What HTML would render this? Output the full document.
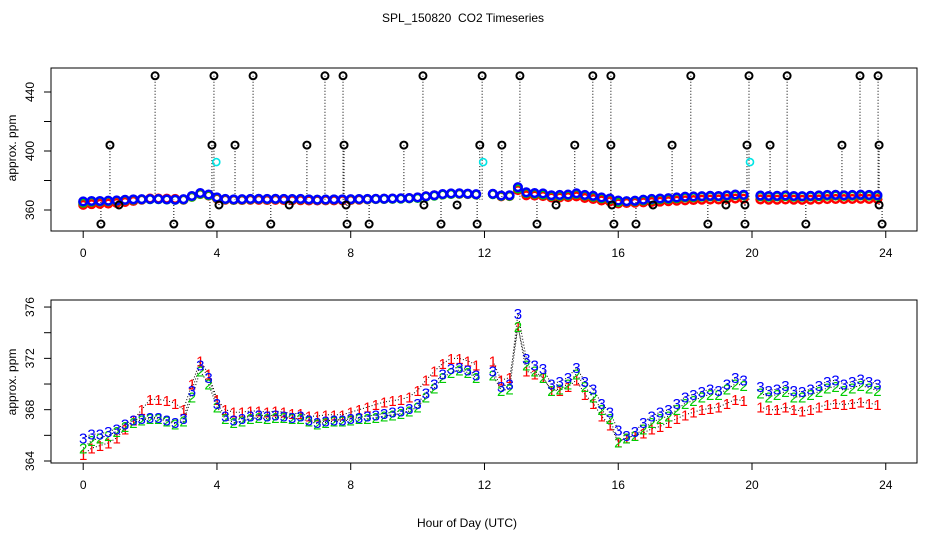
<!DOCTYPE html>
<html><head><meta charset="utf-8"><style>
html,body{margin:0;padding:0;background:#fff;}
svg{display:block;font-family:"Liberation Sans",sans-serif;}
</style></head><body>
<svg id="chart" width="936" height="540" viewBox="0 0 936 540">
<text x="463" y="22" text-anchor="middle" font-size="12" style="white-space:pre">SPL_150820  CO2 Timeseries</text>
<g id="topPanel"></g>
<g id="botPanel"></g>
<text x="467" y="527" text-anchor="middle" font-size="12">Hour of Day (UTC)</text>
</svg>
<script>
const hours = [0,0.25,0.5,0.75,1,1.25,1.5,1.75,2,2.25,2.5,2.75,3,3.25,3.5,3.75,4,4.25,4.5,4.75,5,5.25,5.5,5.75,6,6.25,6.5,6.75,7,7.25,7.5,7.75,8,8.25,8.5,8.75,9,9.25,9.5,9.75,10,10.25,10.5,10.75,11,11.25,11.5,11.75,12,12.25,12.5,12.75,13,13.25,13.5,13.75,14,14.25,14.5,14.75,15,15.25,15.5,15.75,16,16.25,16.5,16.75,17,17.25,17.5,17.75,18,18.25,18.5,18.75,19,19.25,19.5,19.75,20,20.25,20.5,20.75,21,21.25,21.5,21.75,22,22.25,22.5,22.75,23,23.25,23.5,23.75];
const series3 = [365.8,366.1,366.1,366.3,366.5,366.9,367.2,367.3,367.4,367.4,367.2,367.0,367.3,369.5,371.5,370.5,368.5,367.5,367.2,367.3,367.5,367.6,367.5,367.6,367.5,367.4,367.5,367.2,367.0,367.1,367.2,367.2,367.3,367.4,367.5,367.6,367.7,367.8,367.9,368.1,368.5,369.3,370.0,370.8,371.2,371.3,371.1,370.7,null,371.0,369.8,370.0,375.5,372.0,371.5,371.2,370.0,370.2,370.5,371.3,370.2,369.6,368.5,367.8,366.4,366.0,366.3,367.0,367.5,367.8,368.0,368.5,369.0,369.2,369.4,369.6,369.5,370.0,370.5,370.3,null,369.8,369.5,369.6,369.9,369.5,369.4,369.6,369.9,370.2,370.3,370.0,370.2,370.4,370.2,370.0];
const series2 = [365.0,365.6,365.8,366.0,366.3,366.7,367.0,367.2,367.3,367.3,367.1,366.9,367.1,369.0,371.0,370.0,368.2,367.3,367.0,367.1,367.3,367.4,367.3,367.4,367.4,367.3,367.3,367.1,366.9,367.0,367.1,367.1,367.2,367.3,367.3,367.4,367.5,367.6,367.7,367.9,368.2,369.0,369.7,370.5,370.9,371.1,370.9,370.5,null,370.7,369.5,369.6,374.5,371.5,371.0,370.5,369.5,369.6,370.0,370.8,369.8,369.0,368.0,367.3,365.5,365.8,366.0,366.5,367.0,367.3,367.5,368.0,368.5,368.7,369.0,369.2,369.2,369.6,370.0,369.9,null,369.3,369.0,369.2,369.4,369.0,369.0,369.2,369.4,369.7,369.8,369.5,369.7,369.9,369.7,369.5];
const series1 = [364.5,365.0,365.2,365.4,365.8,366.5,367.2,368.0,368.8,368.8,368.7,368.5,368.0,370.0,371.8,370.8,368.8,368.0,367.8,367.8,367.9,367.9,367.8,367.9,367.8,367.7,367.7,367.5,367.5,367.6,367.6,367.6,367.8,368.0,368.2,368.4,368.6,368.7,368.8,369.0,369.5,370.3,371.0,371.6,372.0,372.0,371.8,371.5,null,371.8,370.3,370.5,374.5,371.0,370.8,370.5,369.5,369.5,369.8,370.3,369.2,368.5,367.5,366.8,365.5,365.8,366.0,366.2,366.5,366.7,367.0,367.3,367.6,367.8,368.0,368.1,368.2,368.5,368.8,368.7,null,368.2,368.0,368.0,368.2,368.0,367.9,368.0,368.2,368.4,368.5,368.4,368.5,368.6,368.5,368.4];
const outlierHours = [2.15,3.91,5.08,7.23,7.77,10.16,11.93,13.06,15.24,15.78,18.17,19.91,21.05,23.23,23.77, 0.8,3.85,4.54,6.69,7.80,9.59,11.86,12.52,14.70,15.78,17.61,19.85,20.54,22.69,23.80, 1.07,4.06,6.16,7.86,10.19,11.18,14.14,15.81,17.04,19.22,19.79,23.80, 0.53,2.71,3.79,5.61,7.89,8.55,10.70,11.78,13.57,15.87,16.53,18.68,19.79,21.61,23.89];
const outlierValues = [451,451,451,451,451,451,451,451,451,451,451,451,451,451,451, 404,404,404,404,404,404,404,404,404,404,404,404,404,404,404, 363.4,363.4,363.4,363.4,363.4,363.4,363.4,363.4,363.4,363.4,363.4,363.4, 350.5,350.5,350.5,350.5,350.5,350.5,350.5,350.5,350.5,350.5,350.5,350.5,350.5,350.5,350.5];
const cyanHours = [3.98,11.96,19.94];
const cyanValues = [392.5,392.5,392.5];
const xTicks = [0,4,8,12,16,20,24];
const topYTicks = [360,380,400,420,440];
const topYLabels = ["360","","400","","440"];
const botYTicks = [364,366,368,370,372,374,376];
const botYLabels = ["364","","368","","372","","376"];

const NS="http://www.w3.org/2000/svg";
function mk(parent,tag,attrs){const e=document.createElementNS(NS,tag);for(const k in attrs)e.setAttribute(k,attrs[k]);parent.appendChild(e);return e;}
const X0=51,X1=917;
const xs=h=>83.2+h*33.44;
const topY=v=>210-(v-360)*1.475;
const botY=v=>461-(v-364)*12.83;

function frame(g,t0,b0,yTicks,yLabels,yf,mid,name){
  const r=mk(g,'rect',{x:X0,y:t0,width:X1-X0,height:b0-t0,fill:'none',stroke:'#000','stroke-width':1});
  
  
  xTicks.forEach(h=>{
    const l=mk(g,'line',{x1:xs(h),x2:xs(h),y1:b0,y2:b0+7,stroke:'#000'});
    
    
    const t=mk(g,'text',{x:xs(h),y:b0+26,'text-anchor':'middle','font-size':12});
    t.textContent=h;
    
    
  });
  yTicks.forEach((v,i)=>{
    const y=yf(v);
    const l=mk(g,'line',{x1:X0-7,x2:X0,y1:y,y2:y,stroke:'#000'});
    
    
    if(yLabels[i]){
      const t=mk(g,'text',{x:0,y:0,'text-anchor':'middle','font-size':12,transform:`translate(34,${y}) rotate(-90)`});
      t.textContent=yLabels[i];
      
      
    }
  });
  const t=mk(g,'text',{x:0,y:0,'text-anchor':'middle','font-size':12,transform:`translate(16,${mid}) rotate(-90)`});
  t.textContent='approx. ppm';
  
  
}

const gTop=document.getElementById('topPanel');
const gBot=document.getElementById('botPanel');
frame(gTop,68,231,topYTicks,topYLabels,topY,148,'top');
frame(gBot,300,463,botYTicks,botYLabels,botY,382,'bottom');

outlierHours.forEach((h,i)=>{
  const x=xs(h);
  const l=mk(gTop,'line',{x1:x,x2:x,y1:topY(outlierValues[i]),y2:topY(367),stroke:'#000','stroke-dasharray':'1,2'});
  
  
});
const cols=['#ff0000','#00cc00','#0000ff'];
const sets=[series1,series2,series3];
sets.forEach((s,k)=>{
  s.forEach((v,i)=>{
    if(v==null)return;
    const c=mk(gTop,'circle',{cx:xs(hours[i]),cy:topY(v)+(k==0?1.5:0),r:3.8,fill:'none',stroke:cols[k],'stroke-width':2.5});
    
    
  });
});
outlierHours.forEach((h,i)=>{
  const c=mk(gTop,'circle',{cx:xs(h),cy:topY(outlierValues[i]),r:3.5,fill:'none',stroke:'#000','stroke-width':2});
  
  
});
cyanHours.forEach((h,i)=>{
  const c=mk(gTop,'circle',{cx:xs(h),cy:topY(cyanValues[i]),r:3.5,fill:'none',stroke:'#00e5e5','stroke-width':1.6});
  
  
});

sets.forEach((s,k)=>{
  let d='',pen=false;
  s.forEach((v,i)=>{
    if(v==null){pen=false;return;}
    d+=(pen?'L':'M')+xs(hours[i]).toFixed(1)+','+botY(v).toFixed(1);pen=true;
  });
  const p=mk(gBot,'path',{d:d,fill:'none',stroke:'#000','stroke-width':1,'stroke-dasharray':'1,2'});
  
  
});
[0,1,2].forEach(k=>{
  const s=sets[k];
  s.forEach((v,i)=>{
    if(v==null)return;
    const t=mk(gBot,'text',{x:xs(hours[i]),y:botY(v)+5.5,'text-anchor':'middle','font-size':15,fill:cols[k]});
    t.textContent=String(k+1);
    
    
  });
});
</script>
</body></html>
